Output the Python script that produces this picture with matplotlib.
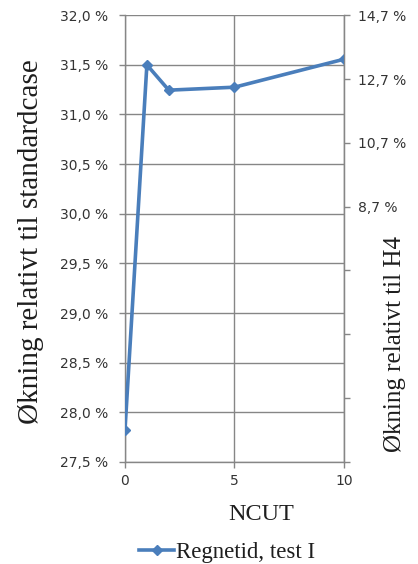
import numpy as np
import matplotlib.pyplot as plt
from matplotlib.ticker import FixedLocator, FuncFormatter

plt.rcParams['font.family'] = 'DejaVu Sans'

# data
ncut = [0, 1, 2, 5, 10]
regnetid = [27.82, 31.50, 31.245, 31.275, 31.557]  # økning i % relativt til standardcase
left_ticks = [27.5, 28.0, 28.5, 29.0, 29.5, 30.0, 30.5, 31.0, 31.5, 32.0]
right_ticks = [0.7, 2.7, 4.7, 6.7, 8.7, 10.7, 12.7, 14.7]
right_labelled = [8.7, 10.7, 12.7, 14.7]

blue = '#4a7ebb'
grey = '#868686'
tekst = '#1e1e1e'
serif = 'Liberation Serif'

fig = plt.figure(figsize=(4.18, 5.64), dpi=100)
ax = fig.add_axes([0.299, 0.181, 0.524, 0.792])

ax.plot(ncut, regnetid, color=blue, lw=2.6, marker='D', ms=5.5,
        mec=blue, mfc=blue, label='Regnetid, test I', zorder=3)

ax.set_xlim(0, 10)
ax.set_ylim(27.5, 32.0)
ax.set_xticks([0, 5, 10])
ax.set_yticks(left_ticks)
ax.yaxis.set_major_formatter(FuncFormatter(lambda v, p: f'{v:.1f} %'.replace('.', ',')))
ax.grid(True, color=grey, lw=1.0)
ax.set_axisbelow(True)

for s in ax.spines.values():
    s.set_color(grey)
    s.set_linewidth(1.0)
ax.spines['top'].set_visible(False)

ax.tick_params(axis='both', colors=grey, length=4, width=1.0,
               labelsize=10, labelcolor='#333333')
ax.tick_params(axis='y', pad=8)
ax.tick_params(axis='x', pad=5)

# høyre akse
ax2 = ax.twinx()
ax2.set_ylim(0.7, 14.7)
ax2.yaxis.set_major_locator(FixedLocator(right_ticks))
ax2.yaxis.set_major_formatter(FuncFormatter(
    lambda v, p: (f'{v:.1f} %'.replace('.', ',') if round(v, 1) in right_labelled else '')))
ax2.tick_params(axis='y', colors=grey, length=4, width=1.0,
                labelsize=10, labelcolor='#333333', pad=6)
for s in ax2.spines.values():
    s.set_visible(False)
ax2.spines['right'].set_visible(True)
ax2.spines['right'].set_color(grey)

# aksetitler
ax.set_ylabel('Økning relativt til standardcase', fontsize=21, family=serif,
              color=tekst)
ax.yaxis.set_label_coords(-0.37, 0.494)
fig.text(0.945, 0.390, 'Økning relativt til H4', fontsize=18, family=serif,
         color=tekst, rotation=90, ha='center', va='center')
ax.set_xlabel('NCUT', fontsize=17.5, family=serif, color=tekst)
ax.xaxis.set_label_coords(0.62, -0.095)

leg = fig.legend(loc='center', bbox_to_anchor=(0.544, 0.021), frameon=False,
                 prop={'family': serif, 'size': 16.5}, handlelength=1.5,
                 handletextpad=0.1)
for t in leg.get_texts():
    t.set_color(tekst)

fig.savefig('out.png', dpi=100)
